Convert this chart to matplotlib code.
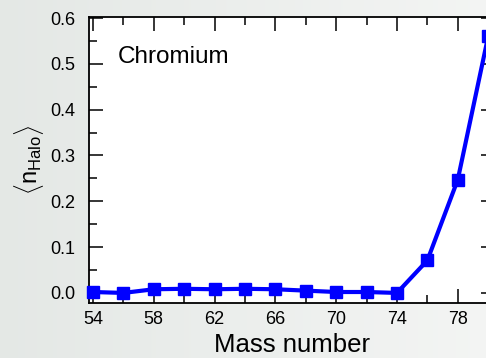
import matplotlib
matplotlib.use("Agg")
import matplotlib.pyplot as plt
import numpy as np
from matplotlib.ticker import MultipleLocator
from matplotlib.colors import LinearSegmentedColormap

mass = [54, 56, 58, 60, 62, 64, 66, 68, 70, 72, 74, 76, 78, 80]
n_halo = [0.002, 0.0, 0.008, 0.009, 0.008, 0.009, 0.008, 0.005, 0.002, 0.002, 0.0, 0.071, 0.247, 0.56]
xticks = [54, 58, 62, 66, 70, 74, 78]
yticks = [0.0, 0.1, 0.2, 0.3, 0.4, 0.5, 0.6]

plt.rcParams['font.family'] = ['Liberation Sans', 'DejaVu Sans']
plt.rcParams['mathtext.fontset'] = 'custom'
plt.rcParams['mathtext.rm'] = 'Liberation Sans'
plt.rcParams['mathtext.it'] = 'Liberation Sans'

W, H = 486, 358
fig = plt.figure(figsize=(W/100, H/100), dpi=100)
bg = fig.add_axes([0, 0, 1, 1], zorder=-10)
grad = np.linspace(0, 1, 256)[None, :]
cmap = LinearSegmentedColormap.from_list('bg', [(0.895, 0.91, 0.90), (0.955, 0.96, 0.955)])
bg.imshow(grad, aspect='auto', cmap=cmap, extent=[0, 1, 0, 1])
bg.axis('off')

ax = fig.add_axes([89/W, 1-303/H, (495-89)/W, (303-16.7)/H])
ax.set_facecolor('white')
ax.plot(mass, n_halo, color='#0000ff', lw=3, marker='s', ms=8, clip_on=False, zorder=5)
ax.set_xlim(53.74, 80.45)
ax.set_ylim(-0.022, 0.603)
ax.set_xticks(xticks)
ax.set_xticklabels([str(t) for t in xticks])
ax.set_yticks(yticks)
ax.set_yticklabels([f"{t:.1f}" for t in yticks])
ax.xaxis.set_minor_locator(MultipleLocator(2))
ax.yaxis.set_minor_locator(MultipleLocator(0.05))
ax.tick_params(which='both', direction='in', top=True, right=True, width=1.1, colors='black', labelsize=13)
ax.tick_params(which='major', length=10)
ax.tick_params(which='minor', length=6)
ax.tick_params(axis='x', pad=6)
ax.tick_params(axis='y', pad=10)
for s in ax.spines.values():
    s.set_linewidth(1.3)
ax.set_ylabel(r'$\langle\mathrm{n}_{\mathrm{Halo}}\rangle$', fontsize=17, labelpad=3)
fig.text(292/W, 5.5/H, 'Mass number', fontsize=18.5, ha='center', va='baseline')
fig.text(117.3/W, 1-62.7/H, 'Chromium', fontsize=17.5, ha='left', va='baseline')

fig.savefig('out.png', dpi=100)
